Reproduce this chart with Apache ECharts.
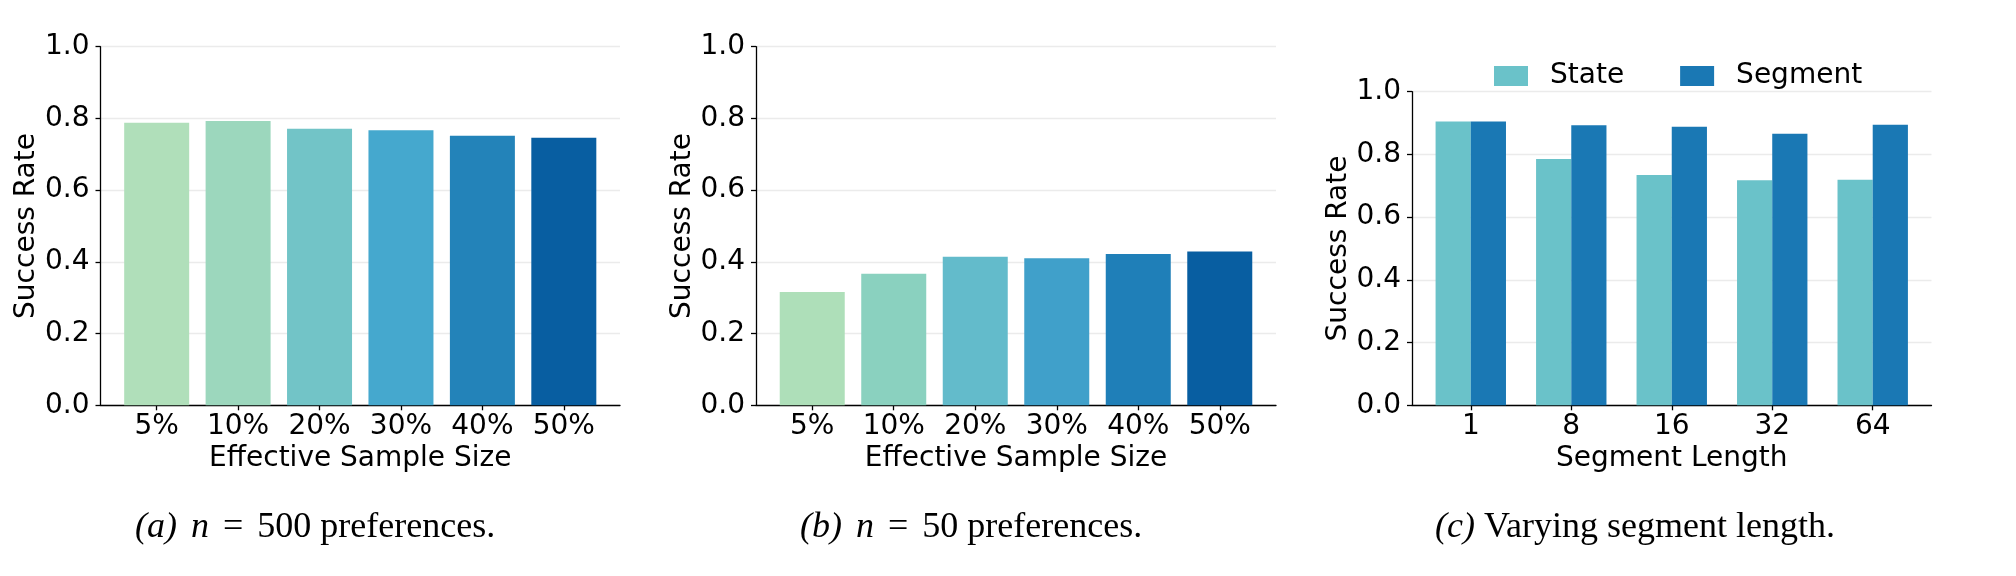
<!DOCTYPE html>
<html>
<head>
<meta charset="utf-8">
<script src="https://cdn.jsdelivr.net/npm/echarts@6/dist/echarts.min.js"></script>
<style>
  html, body { margin: 0; padding: 0; background: #fff; }
  #chart { width: 2016px; height: 576px; }
</style>
</head>
<body>
<div id="chart"></div>
<script>
// 数据
const sampleSizes = ['5%', '10%', '20%', '30%', '40%', '50%'];
const rate500 = [0.788, 0.793, 0.771, 0.767, 0.752, 0.746];
const rate50 = [0.316, 0.367, 0.414, 0.410, 0.422, 0.429];
const colors500 = ['#b0dfba', '#9cd7bd', '#72c4c7', '#45a8ce', '#2383b9', '#085ea1'];
const colors50 = ['#aedfb9', '#8ad1bf', '#63bbcb', '#40a0ca', '#1f7fb8', '#085ea1'];

const segLengths = ['1', '8', '16', '32', '64'];
const stateRate = [0.905, 0.785, 0.734, 0.718, 0.719];
const segmentRate = [0.905, 0.893, 0.888, 0.866, 0.895];
const stateColor = '#6ac2c9';
const segmentColor = '#1a78b4';

const FONT = 'DejaVu Sans';
const SERIF = 'Liberation Serif';
const FS = 28;

// 坐标轴
const makeXAxis = (gridIndex, cats, pad, name) => ({
  type: 'value',
  gridIndex,
  min: -pad,
  max: cats.length - 1 + pad,
  name,
  nameLocation: 'middle',
  nameGap: 37,
  nameTextStyle: { fontFamily: FONT, fontSize: FS, color: '#000', verticalAlign: 'top' },
  axisLine: { show: true, lineStyle: { color: '#000', width: 1.3 } },
  axisTick: { show: true, length: 5, lineStyle: { color: '#000', width: 1.3 }, customValues: cats.map((c, i) => i) },
  axisLabel: {
    customValues: cats.map((c, i) => i),
    formatter: v => cats[Math.round(v)],
    fontFamily: FONT, fontSize: FS, color: '#000', margin: 7
  },
  splitLine: { show: false }
});

const makeYAxis = gridIndex => ({
  type: 'value',
  gridIndex,
  min: 0,
  max: 1,
  interval: 0.2,
  name: 'Success Rate',
  nameLocation: 'middle',
  nameGap: 58,
  nameTextStyle: { fontFamily: FONT, fontSize: FS, color: '#000' },
  axisLine: { show: true, onZero: false, lineStyle: { color: '#000', width: 1.3 } },
  axisTick: { show: true, length: 5, lineStyle: { color: '#000', width: 1.3 } },
  axisLabel: { formatter: v => v.toFixed(1), fontFamily: FONT, fontSize: FS, color: '#000', margin: 11 },
  splitLine: { show: true, lineStyle: { color: '#ebebeb', width: 1.3 } }
});

const barItems = (vals, colors) => vals.map((v, i) => ({ value: [i, v], itemStyle: { color: colors[i] } }));

const caption = (x, parts) => ({
  type: 'text',
  x,
  y: 528,
  style: {
    text: parts,
    fontFamily: SERIF,
    fontSize: 36,
    fill: '#000',
    verticalAlign: 'middle',
    rich: {
      i: { fontFamily: SERIF, fontSize: 36, fontStyle: 'italic' },
      n: { fontFamily: SERIF, fontSize: 36, fontStyle: 'italic', padding: [0, 0, 0, 5] },
      eq: { fontFamily: SERIF, fontSize: 36, padding: [0, 14, 0, 14] }
    }
  }
});

const option = {
  animation: false,
  backgroundColor: '#fff',
  grid: [
    { left: 100.5, top: 46.7, width: 519.5, height: 358.6 },
    { left: 756, top: 46.7, width: 520, height: 358.6 },
    { left: 1412, top: 91.7, width: 519.5, height: 313.6 }
  ],
  legend: {
    left: 1489,
    top: 57,
    itemWidth: 34,
    itemHeight: 20,
    itemGap: 56,
    icon: 'rect',
    textStyle: { fontFamily: FONT, fontSize: FS, color: '#000', padding: [0, 0, 0, 17] },
    data: ['State', 'Segment']
  },
  xAxis: [
    makeXAxis(0, sampleSizes, 0.69, 'Effective Sample Size'),
    makeXAxis(1, sampleSizes, 0.69, 'Effective Sample Size'),
    makeXAxis(2, segLengths, 0.585, 'Segment Length')
  ],
  yAxis: [makeYAxis(0), makeYAxis(1), makeYAxis(2)],
  series: [
    {
      type: 'bar', xAxisIndex: 0, yAxisIndex: 0, barWidth: 65,
      data: barItems(rate500, colors500)
    },
    {
      type: 'bar', xAxisIndex: 1, yAxisIndex: 1, barWidth: 65,
      data: barItems(rate50, colors50)
    },
    {
      name: 'State', type: 'bar', xAxisIndex: 2, yAxisIndex: 2, barWidth: 35.2, barGap: '0%',
      itemStyle: { color: stateColor },
      data: stateRate.map((v, i) => [i, v])
    },
    {
      name: 'Segment', type: 'bar', xAxisIndex: 2, yAxisIndex: 2, barWidth: 35.2, barGap: '0%',
      itemStyle: { color: segmentColor },
      data: segmentRate.map((v, i) => [i, v])
    }
  ],
  graphic: [
    caption(135, '{i|(a)} {n|n}{eq|=}500 preferences.'),
    caption(800, '{i|(b)} {n|n}{eq|=}50 preferences.'),
    caption(1435, '{i|(c)} Varying segment length.')
  ]
};

const chart = echarts.init(document.getElementById('chart'));
chart.setOption(option);
</script>
</body>
</html>
